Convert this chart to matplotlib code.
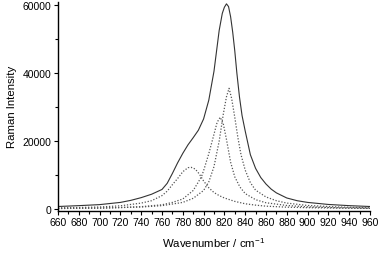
import matplotlib
matplotlib.use("Agg")
import matplotlib.pyplot as plt
from matplotlib.ticker import MultipleLocator

plt.rcParams["font.family"] = ["Liberation Sans", "DejaVu Sans"]
plt.rcParams["mathtext.default"] = "regular"

# measured spectrum (solid)
wn_sum = [660, 680, 700, 720, 730, 740, 750, 760, 765, 770, 775, 780, 785, 790, 795,
          800, 805, 810, 815, 818, 820, 822, 824, 826, 828, 830, 832, 834.5, 837, 840,
          845, 850, 855, 860, 865, 870, 880, 890, 900, 920, 940, 960]
int_sum = [800, 1050, 1350, 2000, 2600, 3400, 4400, 5800, 7600, 10500, 13600, 16400, 18900,
           21000, 23200, 26500, 32000, 40500, 52500, 57500, 59300, 60300, 59500, 56500,
           52000, 46500, 40000, 33000, 27500, 23000, 16000, 12000, 9300, 7400, 5900, 4800,
           3300, 2500, 2000, 1400, 1050, 800]

# fitted bands (dotted)
wn_b1 = [660, 680, 700, 720, 740, 750, 760, 765, 770, 775, 780, 785, 788, 792, 796, 800,
         805, 810, 815, 820, 830, 840, 850, 860, 880, 900, 930, 960]
int_b1 = [400, 500, 650, 1000, 1800, 2500, 4000, 5300, 7200, 9000, 11000, 12200, 12300,
          11800, 10300, 8300, 6300, 4900, 4000, 3300, 2300, 1600, 1200, 900, 600, 450, 320, 250]

wn_b2 = [660, 700, 720, 740, 760, 770, 780, 790, 795, 798, 800, 805, 810, 813, 816, 819,
         822, 826, 830, 835, 840, 850, 860, 880, 900, 930, 960]
int_b2 = [200, 350, 500, 750, 1300, 2000, 3000, 5500, 8000, 9600, 11300, 16300, 22000,
          25500, 27000, 25000, 20500, 13800, 9500, 6500, 4600, 2800, 1900, 1100, 700, 420, 300]

wn_b3 = [660, 700, 740, 760, 780, 790, 800, 805, 810, 815, 819, 822, 824.5, 827, 830, 833,
         836, 840, 845, 850, 860, 870, 880, 900, 930, 960]
int_b3 = [220, 320, 650, 1050, 2000, 3200, 5500, 8000, 12500, 20000, 28000, 33000, 35500,
          32500, 27000, 21000, 16000, 11500, 7800, 5600, 3600, 2500, 1800, 1100, 650, 420]

fig = plt.figure(figsize=(3.8, 2.55), dpi=100)
ax = fig.add_axes([0.1526, 0.170, 0.821, 0.819])

dot = (0, (1, 1.4))
ax.plot(wn_b1, int_b1, color="#555555", lw=0.9, ls=dot)
ax.plot(wn_b2, int_b2, color="#555555", lw=0.9, ls=dot)
ax.plot(wn_b3, int_b3, color="#555555", lw=0.9, ls=dot)
ax.plot(wn_sum, int_sum, color="#333333", lw=0.8)

ax.set_xlim(660, 960)
ax.set_ylim(-420, 60900)
ax.spines["top"].set_visible(False)
ax.spines["right"].set_visible(False)
ax.spines["left"].set_linewidth(1.0)
ax.spines["bottom"].set_linewidth(1.0)

ax.xaxis.set_major_locator(MultipleLocator(20))
ax.xaxis.set_minor_locator(MultipleLocator(10))
ax.yaxis.set_major_locator(MultipleLocator(20000))
ax.yaxis.set_minor_locator(MultipleLocator(10000))
ax.tick_params(which="major", direction="out", length=3, width=0.8, labelsize=7.5, pad=1.5)
ax.tick_params(which="minor", direction="out", length=2.5, width=0.8)

ax.set_xlabel("Wavenumber / cm$^{-1}$", fontsize=8.2, labelpad=6)
ax.set_ylabel("Raman Intensity", fontsize=8.2, labelpad=4)

fig.savefig("out.png", dpi=100)
